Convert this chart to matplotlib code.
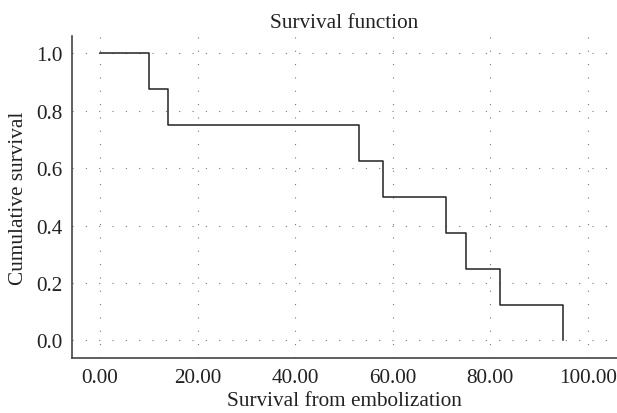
import matplotlib
matplotlib.use("Agg")
import matplotlib.pyplot as plt

# Kaplan-Meier estimate
times = [0, 10, 14, 53, 58, 71, 75, 82, 95]
survival = [1.0, 0.875, 0.75, 0.625, 0.5, 0.375, 0.25, 0.125, 0.0]

x_ticks = [0, 20, 40, 60, 80, 100]
x_tick_labels = ["0.00", "20.00", "40.00", "60.00", "80.00", "100.00"]
y_ticks = [0.0, 0.2, 0.4, 0.6, 0.8, 1.0]
y_tick_labels = ["0.0", "0.2", "0.4", "0.6", "0.8", "1.0"]

plt.rcParams["font.family"] = ["Liberation Serif", "DejaVu Serif"]
fs = 15.3

fig = plt.figure(figsize=(6.17, 4.14), dpi=100)
ax = fig.add_axes([0.1167, 0.1329, 0.8833, 0.7777])

ax.step(times, survival, where="post", color="#222222", linewidth=1.1)

ax.set_xlim(-5.75, 106)
ax.set_ylim(-0.061, 1.06)
ax.set_xticks(x_ticks)
ax.set_xticklabels(x_tick_labels)
ax.set_yticks(y_ticks)
ax.set_yticklabels(y_tick_labels)
ax.tick_params(axis="y", length=0, pad=7, labelsize=fs, colors="#222222")
ax.tick_params(axis="x", length=0, pad=7, labelsize=fs, colors="#222222")

# sparse dotted grid like the SPSS output
ax.grid(True, color="#777777", linestyle=(0, (1, 11)), linewidth=0.8)
ax.set_axisbelow(True)

for side in ["top", "right"]:
    ax.spines[side].set_visible(False)
for side in ["left", "bottom"]:
    ax.spines[side].set_color("#444444")
    ax.spines[side].set_linewidth(1.2)

ax.set_title("Survival function", fontsize=fs, pad=6.5, color="#222222")
ax.set_xlabel("Survival from embolization", fontsize=fs, labelpad=3, color="#222222")
ax.set_ylabel("Cumulative survival", fontsize=fs, labelpad=6, color="#222222")

fig.savefig("out.png", dpi=100)
